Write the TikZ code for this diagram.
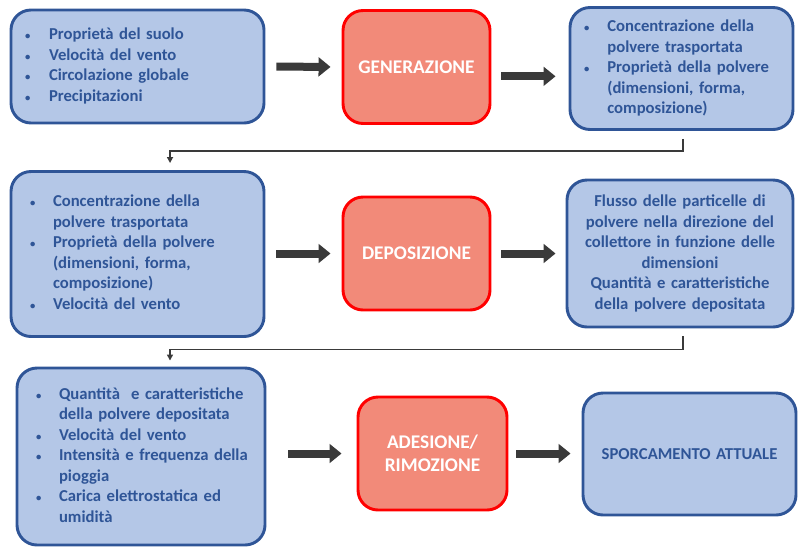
\documentclass[tikz,border=0pt]{standalone}
\usepackage{fontspec}
\setmainfont{Carlito}
\usetikzlibrary{arrows.meta}
\definecolor{boxfill}{HTML}{B4C7E7}
\definecolor{boxline}{HTML}{2F5597}
\definecolor{boxtext}{HTML}{2F5597}
\definecolor{stepfill}{HTML}{F28A79}
\definecolor{flowgray}{HTML}{3A3A3A}
\newcommand{\bul}{\hspace{-1.5pt}{\fontsize{8}{8}\selectfont\textbullet}}

\begin{document}
\begin{tikzpicture}[x=0.75pt,y=-0.75pt,
    every node/.style={font=\fontsize{12.5}{15.4}\selectfont\bfseries},
    bluebox/.style={draw=boxline, fill=boxfill, text=boxtext, line width=2.2pt, rounded corners=15pt, align=left, inner ysep=0pt},
    redbox/.style={draw=red, fill=stepfill, text=white, line width=2.2pt, rounded corners=15pt, align=center, minimum width=110.25pt, minimum height=84.75pt, font=\fontsize{14.5}{17.5}\selectfont\bfseries},
    flow/.style={draw=flowgray, line width=6pt, -{Triangle[length=9pt,width=14pt]}},
    link/.style={draw=flowgray, line width=1.1pt, -{Triangle[length=4.5pt,width=4.5pt]}}]
    \useasboundingbox (0,0) rectangle (798,546);

    % prima riga
    \node[bluebox, text width=165.75pt, inner xsep=12pt, minimum height=84.75pt] (fattori) at (137.5,66.5) {%
        \begin{tabular}{@{}p{16.5pt}@{}l@{}}
            \bul & Proprietà del suolo\\
            \bul & Velocità del vento\\
            \bul & Circolazione globale\\
            \bul & Precipitazioni
        \end{tabular}};
    \node[redbox] (gen) at (416.5,67) {GENERAZIONE};
    \node[bluebox, text width=143.25pt, inner xsep=12pt, minimum height=91.5pt] (trasporto) at (681.5,68.5) {%
        \begin{tabular}{@{}p{16pt}@{}l@{}}
            \bul & Concentrazione della\\
                 & polvere trasportata\\
            \bul & Proprietà della polvere\\
                 & (dimensioni, forma,\\
                 & composizione)
        \end{tabular}};

    % seconda riga
    \node[bluebox, text width=158.25pt, inner xsep=15.75pt, minimum height=123.75pt] (mid) at (137.5,254) {%
        \begin{tabular}{@{}p{15.75pt}@{}l@{}}
            \bul & Concentrazione della\\
                 & polvere trasportata\\
            \bul & Proprietà della polvere\\
                 & (dimensioni, forma,\\
                 & composizione)\\
            \bul & Velocità del vento
        \end{tabular}};
    \node[redbox] (dep) at (416.5,253.5) {DEPOSIZIONE};
    \node[bluebox, align=center, text width=150pt, inner xsep=9.75pt, minimum height=110.25pt] (flusso) at (680,253.5) {%
        Flusso delle particelle di\\
        polvere nella direzione del\\
        collettore in funzione delle\\
        dimensioni\\
        Quantità e caratteristiche\\
        della polvere depositata};

    % terza riga
    \node[bluebox, text width=154.5pt, inner xsep=15.75pt, minimum height=132.75pt] (rimoz) at (141,456.5) {%
        \begin{tabular}{@{}p{15.75pt}@{}l@{}}
            \bul & Quantità\ \ e caratteristiche\\
                 & della polvere depositata\\
            \bul & Velocità del vento\\
            \bul & Intensità e frequenza della\\
                 & pioggia\\
            \bul & Carica elettrostatica ed\\
                 & umidità
        \end{tabular}};
    \node[redbox, minimum width=111.75pt] (adh) at (432.5,453.5) {ADESIONE/\\RIMOZIONE};
    \node[bluebox, align=center, text width=140pt, inner xsep=9.875pt, minimum height=91.5pt] (sporc) at (689.5,454) {SPORCAMENTO ATTUALE};

    \draw[flow, shorten <=8.25pt, shorten >=8.25pt] (fattori.east) -- (gen.west);
    \draw[flow, shorten <=7.5pt, shorten >=9.75pt] ([yshift=-7pt]gen.east) -- ([yshift=-7pt]gen.east -| trasporto.west);
    \draw[flow, shorten <=8.25pt, shorten >=8.25pt] (mid.east |- dep.west) -- (dep.west);
    \draw[flow, shorten <=7.5pt, shorten >=7.5pt] (dep.east) -- (dep.east -| flusso.west);
    \draw[flow, shorten <=16.5pt, shorten >=11.25pt] (rimoz.east |- adh.west) -- (adh.west);
    \draw[flow, shorten <=6pt, shorten >=8.25pt] (adh.east) -- (adh.east -| sporc.west);

    \draw[link] ([xshift=1.1pt,yshift=-6pt]trasporto.south) -- ++(0,12) -| ([xshift=24.4pt,yshift=5.25pt]mid.north);
    \draw[link] ([xshift=2.25pt,yshift=-6pt]flusso.south) -- ++(0,13) -| ([xshift=21.75pt,yshift=4.5pt]rimoz.north);
\end{tikzpicture}
\end{document}
